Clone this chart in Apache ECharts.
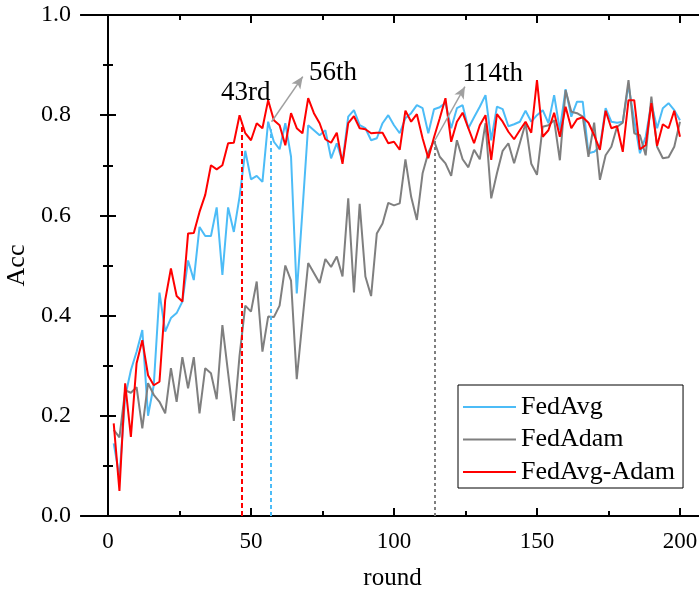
<!DOCTYPE html>
<html>
<head>
<meta charset="utf-8">
<script src="https://cdn.jsdelivr.net/npm/echarts@6/dist/echarts.min.js"></script>
<style>html,body{margin:0;padding:0;background:#fff;}#c{width:699px;height:592px;}</style>
</head>
<body>
<div id="c"></div>
<script>
const rounds = [2,4,6,8,10,12,14,16,18,20,22,24,26,28,30,32,34,36,38,40,42,44,46,48,50,52,54,56,58,60,62,64,66,68,70,72,74,76,78,80,82,84,86,88,90,92,94,96,98,100,102,104,106,108,110,112,114,116,118,120,122,124,126,128,130,132,134,136,138,140,142,144,146,148,150,152,154,156,158,160,162,164,166,168,170,172,174,176,178,180,182,184,186,188,190,192,194,196,198,200];

const fedAvg = [0.145,0.078,0.238,0.291,0.328,0.371,0.200,0.261,0.446,0.368,0.395,0.405,0.428,0.510,0.471,0.577,0.559,0.559,0.616,0.481,0.616,0.567,0.637,0.729,0.672,0.679,0.667,0.787,0.747,0.732,0.784,0.717,0.444,0.610,0.780,0.770,0.760,0.770,0.714,0.744,0.707,0.797,0.810,0.780,0.774,0.750,0.754,0.784,0.800,0.780,0.764,0.794,0.804,0.820,0.814,0.764,0.812,0.816,0.824,0.774,0.814,0.820,0.774,0.796,0.817,0.840,0.750,0.817,0.812,0.778,0.782,0.787,0.809,0.787,0.800,0.810,0.784,0.840,0.770,0.852,0.797,0.827,0.827,0.724,0.727,0.737,0.814,0.787,0.785,0.787,0.860,0.790,0.724,0.757,0.824,0.774,0.814,0.824,0.810,0.790];

const fedAdam = [0.172,0.157,0.251,0.246,0.257,0.175,0.265,0.242,0.228,0.205,0.295,0.228,0.317,0.255,0.317,0.205,0.295,0.285,0.233,0.381,0.285,0.190,0.320,0.420,0.408,0.468,0.328,0.398,0.397,0.420,0.500,0.470,0.273,0.390,0.505,0.485,0.465,0.513,0.497,0.518,0.478,0.634,0.446,0.623,0.478,0.439,0.564,0.584,0.625,0.620,0.624,0.712,0.637,0.591,0.684,0.725,0.749,0.717,0.704,0.679,0.750,0.712,0.696,0.731,0.712,0.784,0.634,0.684,0.729,0.744,0.704,0.744,0.784,0.703,0.681,0.777,0.780,0.790,0.710,0.850,0.807,0.804,0.797,0.717,0.785,0.671,0.720,0.737,0.777,0.785,0.870,0.764,0.760,0.720,0.837,0.737,0.714,0.716,0.737,0.787];

const fedAvgAdam = [0.185,0.050,0.265,0.158,0.305,0.351,0.281,0.261,0.268,0.431,0.494,0.439,0.428,0.564,0.565,0.607,0.641,0.700,0.692,0.700,0.744,0.745,0.800,0.764,0.750,0.784,0.774,0.830,0.790,0.780,0.740,0.804,0.774,0.764,0.834,0.804,0.784,0.752,0.745,0.765,0.703,0.784,0.798,0.774,0.772,0.764,0.765,0.765,0.744,0.747,0.731,0.809,0.787,0.802,0.754,0.714,0.756,0.794,0.834,0.747,0.787,0.805,0.774,0.744,0.780,0.800,0.711,0.802,0.787,0.767,0.752,0.770,0.787,0.765,0.870,0.757,0.770,0.805,0.757,0.817,0.774,0.792,0.796,0.785,0.760,0.731,0.809,0.774,0.778,0.727,0.830,0.830,0.732,0.740,0.824,0.739,0.782,0.774,0.809,0.757];

const seriesNames = ['FedAvg', 'FedAdam', 'FedAvg-Adam'];
const xMajorTicks = [0, 50, 100, 150, 200];
const xMinorTicks = [25, 75, 125, 175];

// annotations (data coordinates)
const markRounds = [46.7, 56.9, 114.2];     // dashed verticals: FedAvg-Adam, FedAvg, FedAdam
const markTops = [0.785, 0.772, 0.75];
const annotTexts = ['43rd', '56th', '114th'];
const annotPos = [[39.5, 0.845], [70.3, 0.885], [124.0, 0.883]];
const arrow56 = [[57.2, 0.787], [68.1, 0.877]];
const arrow114 = [[114.3, 0.75], [124.8, 0.857]];

const FONT = 'Liberation Serif';
const colors = ['#4cbcf7', '#7f7f7f', '#ff0000'];

function pair(vals) { return rounds.map((r, i) => [r, vals[i]]); }

const axisLine = { show: true, lineStyle: { color: '#000', width: 2 } };
const xMin = -9.44, xMax = 208.4;

function xAxisDef(pos, custom, len, labels, extra) {
  return Object.assign({
    type: 'value', position: pos, min: xMin, max: xMax,
    axisLine: axisLine,
    splitLine: { show: false },
    axisTick: { show: true, inside: true, length: len, customValues: custom, lineStyle: { color: '#000', width: 2 } },
    axisLabel: labels ? { show: true, customValues: custom, color: '#000', fontFamily: FONT, fontSize: 23, margin: 14 } : { show: false }
  }, extra || {});
}

function yAxisDef(pos, labels, extra) {
  return Object.assign({
    type: 'value', position: pos, min: 0, max: 1, interval: 0.2,
    axisLine: axisLine,
    splitLine: { show: false },
    axisTick: { show: true, inside: true, length: 8, lineStyle: { color: '#000', width: 2 } },
    minorTick: { show: true, splitNumber: 2, length: 5, lineStyle: { color: '#000', width: 2 } },
    axisLabel: labels ? { show: true, color: '#000', fontFamily: FONT, fontSize: 24, margin: 10, formatter: v => v.toFixed(1) } : { show: false }
  }, extra || {});
}

const chart = echarts.init(document.getElementById('c'), null, { renderer: 'canvas' });

const lineSeries = [fedAvg, fedAdam, fedAvgAdam].map((vals, i) => ({
  name: seriesNames[i], type: 'line', xAxisIndex: 0, yAxisIndex: 0,
  data: pair(vals), symbol: 'none', showSymbol: false,
  lineStyle: { color: colors[i], width: 2 }, itemStyle: { color: colors[i] },
  z: 2 + i
}));

// dashed verticals
const vIdx = [2, 0, 1];
const dashTypes = [[5, 3], [4, 3], [3, 3]];
vIdx.forEach((si, k) => {
  lineSeries[si].markLine = {
    silent: true, animation: false, symbol: ['none', 'none'], label: { show: false },
    data: [[{ coord: [markRounds[k], 0] }, { coord: [markRounds[k], markTops[k]] }]],
    lineStyle: { color: colors[si], width: 2, type: dashTypes[k] }
  };
});

// annotation series (arrows + texts)
const annotSeries = {
  name: 'annot', type: 'line', data: [], xAxisIndex: 0, yAxisIndex: 0, z: 10,
  markLine: {
    silent: true, animation: false, symbol: ['none', 'arrow'], symbolSize: [8, 12],
    label: { show: false },
    lineStyle: { color: '#a0a0a0', width: 1.5, type: 'solid' },
    data: [
      [{ coord: arrow56[0] }, { coord: arrow56[1] }],
      [{ coord: arrow114[0] }, { coord: arrow114[1] }]
    ]
  },
  markPoint: {
    silent: true, animation: false, symbol: 'circle', symbolSize: 0,
    itemStyle: { color: 'rgba(0,0,0,0)' },
    label: { show: true, position: 'inside', align: 'left', verticalAlign: 'middle', color: '#000', fontFamily: FONT, fontSize: 27 },
    data: annotTexts.map((t, i) => ({ coord: annotPos[i], value: t, label: { formatter: t } }))
  }
};

chart.setOption({
  animation: false,
  backgroundColor: '#fff',
  grid: { left: 81, top: 15, width: 623, height: 501, containLabel: false, outerBoundsMode: 'none' },
  legend: {
    data: seriesNames,
    orient: 'vertical', left: 458, top: 385,
    icon: 'rect',
    padding: [8, 8, 2, 5], itemGap: 4.5, itemWidth: 53, itemHeight: 2,
    backgroundColor: '#fff', borderColor: '#000', borderWidth: 1,
    textStyle: { fontFamily: FONT, fontSize: 26, color: '#000', lineHeight: 28 }
  },
  xAxis: [
    xAxisDef('bottom', xMajorTicks, 8, true, { name: 'round', nameLocation: 'middle', nameGap: 50, nameTextStyle: { fontFamily: FONT, fontSize: 25, color: '#000' } }),
    xAxisDef('bottom', xMinorTicks, 5, false),
    xAxisDef('top', xMajorTicks, 8, false),
    xAxisDef('top', xMinorTicks, 5, false)
  ],
  yAxis: [
    yAxisDef('left', true, { name: 'Acc', nameLocation: 'middle', nameGap: 50, nameRotate: 90, nameTextStyle: { fontFamily: FONT, fontSize: 26, color: '#000' } }),
    yAxisDef('right', false)
  ],
  series: lineSeries.concat([annotSeries])
});
</script>
</body>
</html>
